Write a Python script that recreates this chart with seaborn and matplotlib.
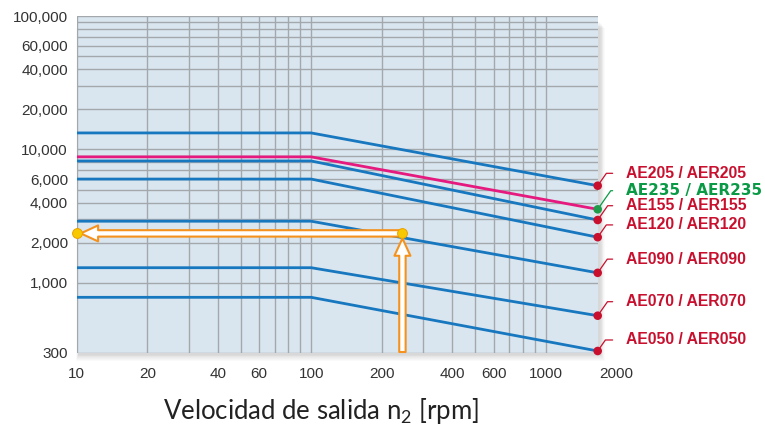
import matplotlib
matplotlib.use("Agg")
import matplotlib.pyplot as plt
import matplotlib.transforms as mtransforms
from matplotlib.patches import Rectangle
import pandas as pd
import seaborn as sns

# Gearbox families and their rated output torque [Nm]
models = ["AE205 / AER205", "AE235 / AER235", "AE155 / AER155", "AE120 / AER120",
          "AE090 / AER090", "AE070 / AER070", "AE050 / AER050"]
torque_low_speed = [13300, 8800, 8200, 6000, 2900, 1300, 780]   # flat up to the knee
torque_top_speed = [5350, 3560, 2960, 2200, 1190, 568, 309]     # at top output speed
speed_start, speed_knee, speed_top = 10, 100, 1667              # rpm

# Worked example: read the torque at a given output speed
example_speed = 245
example_torque = 2350

x_ticks = [10, 20, 40, 60, 100, 200, 400, 600, 1000, 2000]
x_minor = [30, 50, 70, 80, 90, 300, 500, 700, 800, 900]
y_ticks = [300, 1000, 2000, 4000, 6000, 10000, 20000, 40000, 60000, 100000]
y_tick_labels = ["300", "1,000", "2,000", "4,000", "6,000", "10,000",
                 "20,000", "40,000", "60,000", "100,000"]
y_minor = [3000, 5000, 7000, 8000, 9000, 30000, 50000, 70000, 80000, 90000]
y_limits = (300, 100000)

# Styling
BLUE, PINK = "#1777bf", "#e5197e"
RED, GREEN = "#c8102e", "#0a9a46"
ORANGE = "#f5921e"
line_colors = [BLUE, PINK, BLUE, BLUE, BLUE, BLUE, BLUE]
label_colors = [RED, GREEN, RED, RED, RED, RED, RED]
dot_colors = [RED, "#1f9a4a", RED, RED, RED, RED, RED]
label_fonts = ["Liberation Sans", "DejaVu Sans", "Liberation Sans", "Liberation Sans",
               "Liberation Sans", "Liberation Sans", "Liberation Sans"]
label_sizes = [11.3, 11.0, 11.3, 11.3, 11.3, 11.3, 11.3]
label_rise_px = [12.4, 18.6, 14.3, 12.3, 13.7, 14.0, 11.0]

sns.set_style("white")
plt.rcParams["font.family"] = ["Liberation Sans", "DejaVu Sans"]
plt.rcParams["mathtext.fontset"] = "custom"
plt.rcParams["mathtext.rm"] = "Lato"

W, H, DPI = 765, 434, 100
fig = plt.figure(figsize=(W / DPI, H / DPI), dpi=DPI)
ax_px = (76.7, 352.7, 597.7, 16.0)  # left, bottom, right, top in pixels from top-left
ax = fig.add_axes([ax_px[0] / W, 1 - ax_px[1] / H,
                   (ax_px[2] - ax_px[0]) / W, (ax_px[1] - ax_px[3]) / H])
ax.set_facecolor("#d9e5ef")

# soft drop shadow behind the plot area
x0, y0 = ax_px[0], H - ax_px[1]
w, h = ax_px[2] - ax_px[0], ax_px[1] - ax_px[3]
for k in range(1, 9):
    fig.add_artist(Rectangle((x0 + 2 - k * 0.3, y0 - 1 - k * 0.9), w + k * 0.9, h - 4,
                             transform=mtransforms.IdentityTransform(),
                             facecolor="#606060", edgecolor="none", alpha=0.03,
                             zorder=-1))

# long-form table of the torque curves
rows = []
for m, lo, hi in zip(models, torque_low_speed, torque_top_speed):
    rows += [(m, speed_start, lo), (m, speed_knee, lo), (m, speed_top, hi)]
df = pd.DataFrame(rows, columns=["model", "speed", "torque"])

sns.lineplot(data=df, x="speed", y="torque", hue="model", hue_order=models,
             palette=dict(zip(models, line_colors)), estimator=None, sort=False,
             lw=2.0, legend=False, ax=ax, zorder=3)

ax.set_xscale("log")
ax.set_yscale("log")
ax.set_xlim(speed_start, speed_top)
ax.set_ylim(*y_limits)

in_x = [t for t in x_ticks if t <= speed_top]
ax.set_xticks(in_x)
ax.set_xticklabels([str(t) for t in in_x])
ax.set_xticks(x_minor, minor=True)
ax.set_yticks(y_ticks)
ax.set_yticklabels(y_tick_labels)
ax.set_yticks(y_minor, minor=True)
ax.tick_params(which="both", length=0)
ax.tick_params(axis="y", which="minor", labelleft=False)
ax.tick_params(axis="x", which="minor", labelbottom=False)
ax.tick_params(axis="y", pad=6.3, labelsize=11, labelcolor="#333333")
ax.tick_params(axis="x", pad=10.5, labelsize=11, labelcolor="#333333")
ax.grid(which="both", color="#a3a8ad", lw=1.0)
ax.set_axisbelow(True)
for s in ax.spines.values():
    s.set_visible(False)

# tick labels beyond the speed range
for t in x_ticks:
    if t > speed_top:
        ax.annotate(str(t), xy=(t, 0), xycoords=ax.get_xaxis_transform(),
                    xytext=(0, -10.5), textcoords="offset points", ha="center",
                    va="top", fontsize=11, color="#333333", annotation_clip=False)

ax.set_xlabel(r"Velocidad de salida n$_{2}$ [rpm]", family="Lato", fontsize=18.5,
              color="#222222", va="baseline")
ax.set_ylabel("")
ax.xaxis.set_label_coords((320.5 - ax_px[0]) / w, (ax_px[1] - 419.3) / h)

# end-point markers and model labels
ax.scatter([speed_top] * len(models), torque_top_speed, s=38, c=dot_colors,
           zorder=6, clip_on=False, linewidths=0)
for m, hi, col, fam, fs, rise in zip(models, torque_top_speed, label_colors,
                                      label_fonts, label_sizes, label_rise_px):
    ax.annotate(m, xy=(speed_top, hi), xytext=(28, rise), textcoords="offset pixels",
                ha="left", va="center", fontsize=fs, fontweight="bold", family=fam,
                color=col, annotation_clip=False,
                arrowprops=dict(arrowstyle="-", color=col, lw=0.9, patchA=None,
                                shrinkA=9.4, shrinkB=0, relpos=(0, 0.5),
                                connectionstyle="angle,angleA=0,angleB=55,rad=0"))

# reading arrows for the worked example
arrow_style = "simple,head_length=12.5,head_width=11.5,tail_width=4.6"
ax.annotate("", xy=(speed_start, example_torque), xytext=(example_speed, example_torque),
            arrowprops=dict(arrowstyle=arrow_style, mutation_scale=1, fc="white",
                            ec=ORANGE, lw=1.5, shrinkA=0, shrinkB=2.9), zorder=5)
ax.annotate("", xy=(example_speed, example_torque), xytext=(example_speed, y_limits[0]),
            arrowprops=dict(arrowstyle=arrow_style, mutation_scale=1, fc="white",
                            ec=ORANGE, lw=1.5, shrinkA=0.5, shrinkB=3.6), zorder=5)
ax.scatter([speed_start, example_speed], [example_torque, example_torque], s=50,
           c="#f8c800", edgecolors="#eba000", linewidths=0.7, zorder=7, clip_on=False)

fig.savefig("out.png", dpi=DPI, facecolor="white")
